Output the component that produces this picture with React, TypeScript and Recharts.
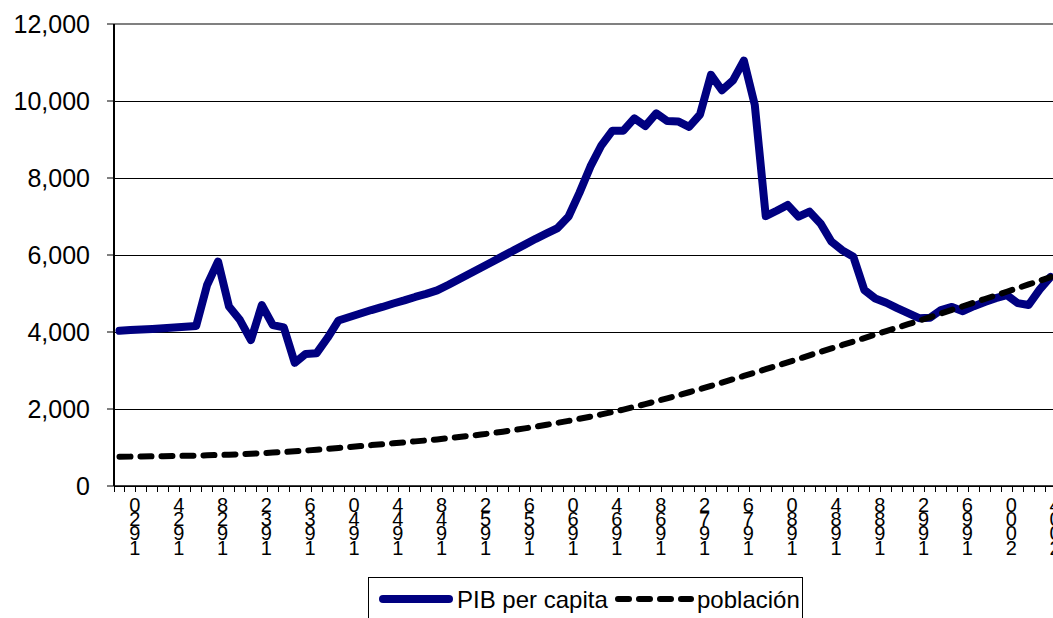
import {
  LineChart,
  Line,
  XAxis,
  YAxis,
  CartesianGrid,
  Legend,
  ReferenceLine,
} from "recharts";

const years = [
  1919, 1920, 1921, 1922, 1923, 1924, 1925, 1926, 1927, 1928,
  1929, 1930, 1931, 1932, 1933, 1934, 1935, 1936, 1937, 1938,
  1939, 1940, 1941, 1942, 1943, 1944, 1945, 1946, 1947, 1948,
  1949, 1950, 1951, 1952, 1953, 1954, 1955, 1956, 1957, 1958,
  1959, 1960, 1961, 1962, 1963, 1964, 1965, 1966, 1967, 1968,
  1969, 1970, 1971, 1972, 1973, 1974, 1975, 1976, 1977, 1978,
  1979, 1980, 1981, 1982, 1983, 1984, 1985, 1986, 1987, 1988,
  1989, 1990, 1991, 1992, 1993, 1994, 1995, 1996, 1997, 1998,
  1999, 2000, 2001, 2002, 2003, 2004,
];

const pibPerCapita = [
  4030, 4050, 4065, 4080, 4100, 4115, 4135, 4155, 5220, 5830,
  4660, 4310, 3790, 4700, 4180, 4120, 3200, 3430, 3450, 3850,
  4300, 4390, 4480, 4570, 4650, 4740, 4820, 4910, 4990, 5080,
  5220, 5370, 5520, 5670, 5820, 5970, 6120, 6270, 6420, 6560,
  6700, 7000, 7620, 8300, 8850, 9230, 9230, 9550, 9350, 9680,
  9480, 9470, 9330, 9650, 10680, 10280, 10530, 11050, 9900, 7010,
  7150, 7300, 6995, 7125, 6820, 6345, 6120, 5955, 5090, 4870,
  4760, 4620, 4490, 4360, 4370, 4570, 4650, 4540, 4670, 4780,
  4880, 4960, 4750, 4700, 5100, 5430,
];

const poblacion = [
  760, 763, 766, 770, 774, 779, 784, 790, 797, 805,
  813, 825, 838, 852, 867, 883, 900, 920, 942, 965,
  988, 1012, 1037, 1062, 1086, 1110, 1134, 1159, 1184, 1210,
  1240, 1270, 1302, 1336, 1372, 1410, 1452, 1496, 1542, 1590,
  1640, 1692, 1746, 1802, 1860, 1920, 1985, 2055, 2127, 2201,
  2277, 2355, 2435, 2517, 2601, 2686, 2772, 2859, 2947, 3035,
  3124, 3213, 3303, 3393, 3483, 3573, 3663, 3753, 3843, 3933,
  4023, 4113, 4203, 4293, 4387, 4481, 4575, 4669, 4763, 4857,
  4951, 5045, 5140, 5235, 5330, 5425,
];

const yTicks = [0, 2000, 4000, 6000, 8000, 10000, 12000];

const labelYears = [
  1920, 1924, 1928, 1932, 1936, 1940, 1944, 1948, 1952, 1956, 1960,
  1964, 1968, 1972, 1976, 1980, 1984, 1988, 1992, 1996, 2000, 2004,
];

const data = years.map((year, i) => ({
  year,
  pib: pibPerCapita[i],
  pob: poblacion[i],
}));

// tick marks sit on the borders between the yearly categories
const minorTicks = [...years.map((y) => y - 0.5), years[years.length - 1] + 0.5];
const xTicks = [...minorTicks, ...labelYears].sort((a, b) => a - b);

const FONT = "'Liberation Sans', Arial, sans-serif";
const NAVY = "#000080";

const YearTick = (props: any) => {
  const { x, y, payload } = props;
  const v = payload.value;
  if (!Number.isInteger(v)) {
    return (
      <line x1={x} x2={x} y1={y} y2={y + 6} stroke="#000" strokeWidth={1} shapeRendering="crispEdges" />
    );
  }
  // digits stacked top-down, last digit first (text turned 90°)
  const chars = String(v).split("").reverse();
  return (
    <text x={x + 4.5} y={y} textAnchor="middle" fontSize={20} fill="#000" fontFamily={FONT}>
      {chars.map((c, i) => (
        <tspan key={i} x={x + 4.5} dy={i === 0 ? 26 : 14.2}>
          {c}
        </tspan>
      ))}
    </text>
  );
};

const LegendBox = () => (
  <div style={{ position: "relative", width: 436, height: 41 }}>
    <div
      style={{
        position: "absolute",
        left: 0,
        top: 0,
        width: 433,
        height: 50,
        border: "1.5px solid #000",
        background: "#fff",
      }}
    >
      <svg width={433} height={50} style={{ display: "block" }}>
        <line x1={14} x2={80} y1={21} y2={21} stroke={NAVY} strokeWidth={8} strokeLinecap="round" />
        <text x={88} y={21} dominantBaseline="central" fontSize={24} fontFamily={FONT} fill="#000">
          PIB per capita
        </text>
        <line
          x1={249}
          x2={322}
          y1={21}
          y2={21}
          stroke="#000"
          strokeWidth={6}
          strokeDasharray="11 10"
          strokeLinecap="round"
        />
        <text x={328} y={21} dominantBaseline="central" fontSize={24} fontFamily={FONT} fill="#000">
          población
        </text>
      </svg>
    </div>
  </div>
);

export default function App() {
  return (
    <div
      style={{
        position: "absolute",
        left: 0,
        top: 0,
        width: 1053,
        height: 618,
        overflow: "hidden",
        background: "#fff",
        fontFamily: FONT,
      }}
    >
      <LineChart
        width={1060}
        height={618}
        data={data}
        margin={{ top: 24, right: 4, left: 0, bottom: 0 }}
      >
        <CartesianGrid vertical={false} stroke="#000" strokeWidth={1} shapeRendering="crispEdges" />
        <ReferenceLine y={12000} stroke="#808080" strokeWidth={2} />
        <XAxis
          dataKey="year"
          type="number"
          domain={[1918.5, 2004.5]}
          ticks={xTicks}
          interval={0}
          allowDataOverflow
          tickLine={false}
          tickSize={0}
          tickMargin={0}
          height={91}
          axisLine={{ stroke: "#000", strokeWidth: 1.5 }}
          tick={YearTick}
        />
        <YAxis
          domain={[0, 12000]}
          ticks={yTicks}
          interval={0}
          width={114}
          tickSize={7}
          tickMargin={17}
          tickLine={{ stroke: "#000" }}
          axisLine={{ stroke: "#000", strokeWidth: 2 }}
          tickFormatter={(v: number) => v.toLocaleString("en-US")}
          tick={{ fontSize: 25, fill: "#000", fontFamily: FONT }}
        />
        <Legend
          verticalAlign="bottom"
          content={<LegendBox />}
          wrapperStyle={{ left: 368, top: 577, bottom: "auto", width: 436, height: 41 }}
        />
        <Line
          type="linear"
          dataKey="pib"
          name="PIB per capita"
          stroke={NAVY}
          strokeWidth={8}
          strokeLinejoin="round"
          strokeLinecap="round"
          dot={false}
          isAnimationActive={false}
        />
        <Line
          type="linear"
          dataKey="pob"
          name="población"
          stroke="#000"
          strokeWidth={6}
          strokeDasharray="11 10"
          strokeLinecap="round"
          dot={false}
          isAnimationActive={false}
        />
      </LineChart>
    </div>
  );
}
